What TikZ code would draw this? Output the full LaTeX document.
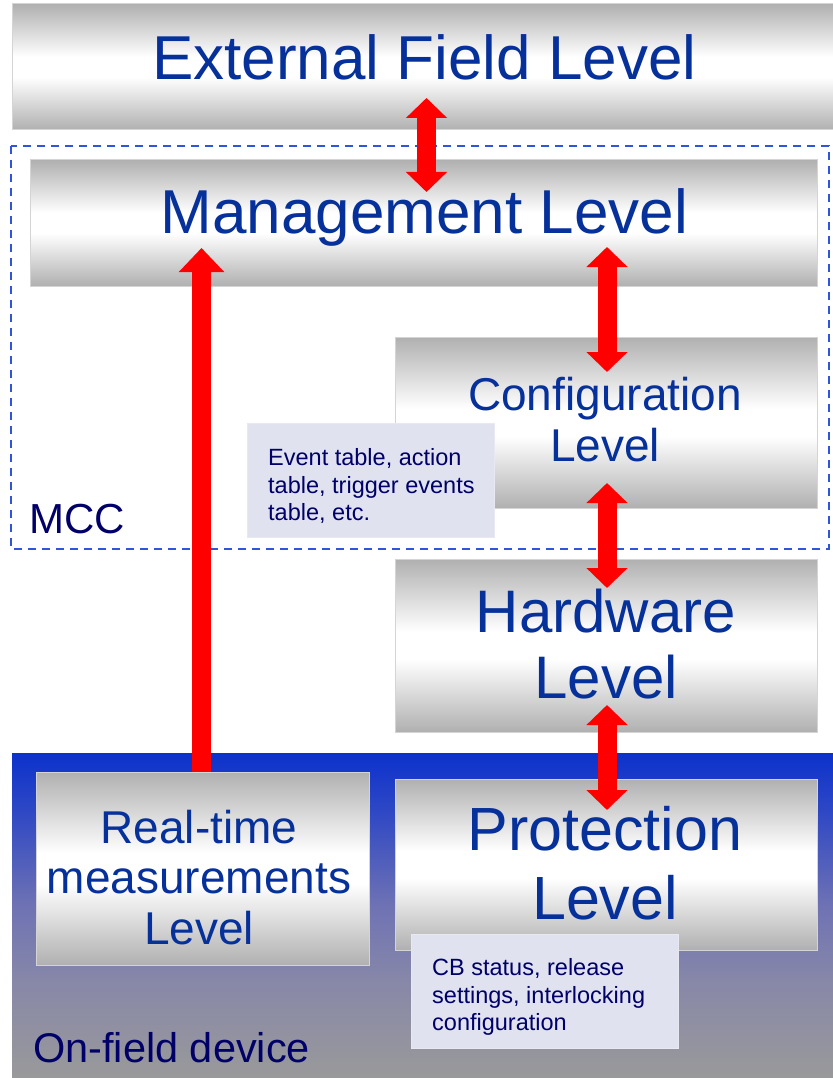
\documentclass[tikz,border=0pt]{standalone}
\usepackage{fontspec}
\setmainfont{Liberation Sans}
\usetikzlibrary{arrows.meta}
\definecolor{boxgray}{HTML}{B0B0B0}
\definecolor{boxedge}{HTML}{D4D4D4}
\definecolor{lvlblue}{HTML}{06309A}
\definecolor{navy}{HTML}{000068}
\definecolor{notefill}{HTML}{E0E2F0}
\definecolor{noteedge}{HTML}{E8E8F2}
\definecolor{dashblue}{HTML}{2F55DD}
\definecolor{devTop}{HTML}{0C32CC}
\definecolor{devUp}{HTML}{2F48C4}
\definecolor{devMid}{HTML}{6E72B4}
\definecolor{devMidB}{HTML}{8888A8}
\definecolor{devBot}{HTML}{9A9A9A}
\definecolor{arrred}{HTML}{FF0000}
\pgfdeclareverticalshading{levelshade}{100bp}{color(0bp)=(boxgray); color(25bp)=(boxgray); color(46bp)=(white); color(54bp)=(white); color(75bp)=(boxgray); color(100bp)=(boxgray)}
\pgfdeclareverticalshading{deviceshade}{100bp}{color(0bp)=(devBot); color(25bp)=(devBot); color(40bp)=(devMidB); color(52bp)=(devMid); color(66bp)=(devUp); color(75bp)=(devTop); color(100bp)=(devTop)}
\tikzset{
  levelbox/.style={rectangle, shading=levelshade, draw=boxedge, line width=1pt, inner sep=0pt},
  notebox/.style={rectangle, fill=notefill, draw=noteedge, line width=1pt, inner sep=0pt},
  lvltext/.style={anchor=base, inner sep=0pt, text=lvlblue},
  notetext/.style={anchor=base west, inner sep=0pt, text=navy, font=\fontsize{23.5}{28}\selectfont},
  grouplabel/.style={anchor=base west, inner sep=0pt, text=navy},
  bigarrow/.style={draw=arrred, line width=19pt, {Triangle[width=40pt,length=20pt]}-{Triangle[width=40pt,length=20pt]}},
  uparrow/.style={draw=arrred, line width=19pt, -{Triangle[width=44pt,length=24pt]}}
}
\begin{document}
\begin{tikzpicture}[x=1pt,y=-1pt]
\useasboundingbox[fill=white] (0,0) rectangle (832,1078);
% on-field device area
\path[shading=deviceshade] (12,753) rectangle (836,1082);
% MCC dashed frame
\draw[dashblue, line width=2pt, dash pattern=on 8pt off 6pt] (11,146) rectangle (829,549);
% level boxes
\node[levelbox, minimum width=824pt, minimum height=126pt] (ext) at (424,67) {};
\node[levelbox, minimum width=787pt, minimum height=126pt] (mgmt) at (423.5,223) {};
\node[levelbox, minimum width=422pt, minimum height=171pt] (cfg) at (606,422.5) {};
\node[levelbox, minimum width=422pt, minimum height=173pt] (hw) at (606,645.5) {};
\node[levelbox, minimum width=333pt, minimum height=193pt] (rt) at (202.5,868.5) {};
\node[levelbox, minimum width=422pt, minimum height=171pt] (prot) at (606,864.5) {};
% note boxes
\node[notebox, minimum width=247pt, minimum height=114pt] (evt) at (370.5,480) {};
\node[notebox, minimum width=267pt, minimum height=114pt] (cb) at (544.5,991) {};
% level texts
\node[lvltext, font=\fontsize{62}{62}\selectfont] (extT) at (424.5,80) {External Field Level};
\node[lvltext, font=\fontsize{62}{62}\selectfont] (mgmtT) at (424.5,233) {Management Level};
\node[lvltext, font=\fontsize{46}{46}\selectfont] (cfgT1) at (605,410) {Configuration};
\node[lvltext, font=\fontsize{46}{46}\selectfont] (cfgT2) at (605,461) {Level};
\node[lvltext, font=\fontsize{60}{60}\selectfont] (hwT1) at (606,632) {Hardware};
\node[lvltext, font=\fontsize{60}{60}\selectfont] (hwT2) at (606,698) {Level};
\node[lvltext, font=\fontsize{61}{61}\selectfont] (protT1) at (605,850) {Protection};
\node[lvltext, font=\fontsize{61}{61}\selectfont] (protT2) at (605,919) {Level};
\node[lvltext, font=\fontsize{46}{46}\selectfont] (rtT1) at (199,843) {Real-time};
\node[lvltext, font=\fontsize{46}{46}\selectfont] (rtT2) at (199,893) {measurements};
\node[lvltext, font=\fontsize{46}{46}\selectfont] (rtT3) at (199,944) {Level};
% note texts
\node[notetext] (evtT1) at (268,465) {Event table, action};
\node[notetext] (evtT2) at (268,493) {table, trigger events};
\node[notetext] (evtT3) at (268,520) {table, etc.};
\node[notetext] (cbT1) at (432,975) {CB status, release};
\node[notetext] (cbT2) at (432,1003) {settings, interlocking};
\node[notetext] (cbT3) at (432,1030) {configuration};
% group labels
\node[grouplabel, font=\fontsize{42}{42}\selectfont] (mccT) at (29,533) {MCC};
\node[grouplabel, font=\fontsize{41.5}{41.5}\selectfont] (devT) at (33,1062) {On-field device};
% arrow end points
\coordinate (a1s) at (426.5,98);
\coordinate (a1e) at (426.5,192);
\coordinate (a2s) at (607,247);
\coordinate (a2e) at (607,372);
\coordinate (a3s) at (607,483);
\coordinate (a3e) at (607,588);
\coordinate (a4s) at (607,705);
\coordinate (a4e) at (607,810);
\coordinate (a5s) at (201.5,772);
\coordinate (a5e) at (201.5,248);
% arrows
\draw[bigarrow] (a1s) -- (a1e);
\draw[bigarrow] (a2s) -- (a2e);
\draw[bigarrow] (a3s) -- (a3e);
\draw[bigarrow] (a4s) -- (a4e);
\draw[uparrow] (a5s) -- (a5e);
\end{tikzpicture}
\end{document}
